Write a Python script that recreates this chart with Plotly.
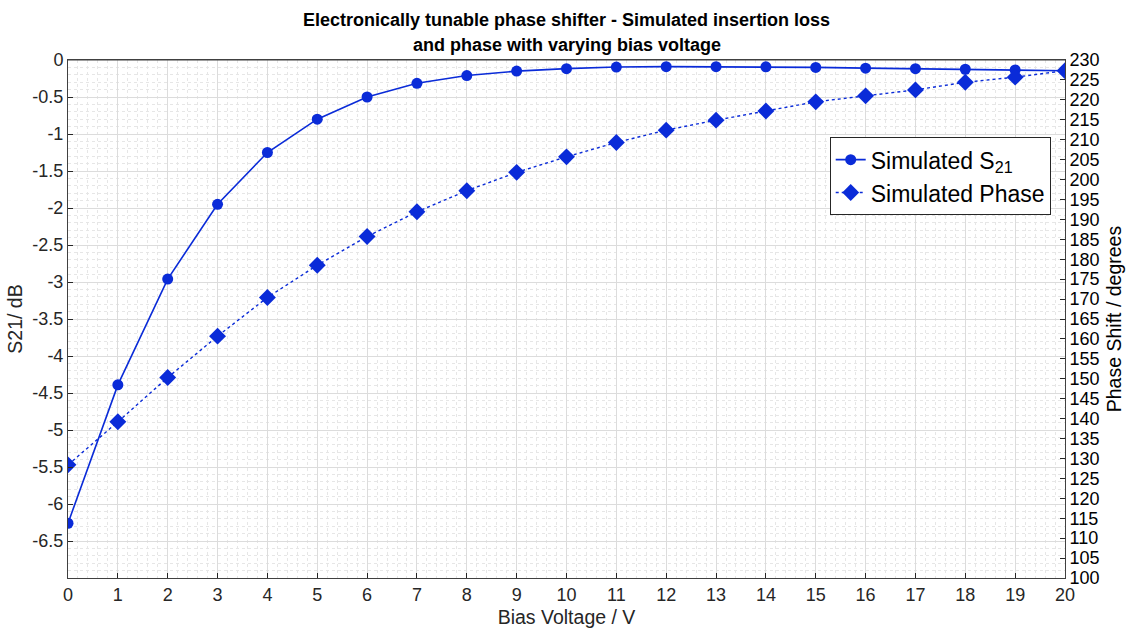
import plotly.graph_objects as go

bias_v = list(range(0, 21))
s21_db = [-6.26, -4.39, -2.96, -1.95, -1.25, -0.80, -0.50, -0.315, -0.21, -0.15, -0.117,
          -0.095, -0.09, -0.09, -0.092, -0.10, -0.11, -0.118, -0.125, -0.135, -0.145]
phase_deg = [128.4, 139.2, 150.3, 160.7, 170.4, 178.5, 185.7, 191.9, 197.2, 201.8, 205.7,
             209.3, 212.4, 214.9, 217.2, 219.5, 221.0, 222.5, 224.4, 225.7, 227.3]
left_ticks = [0, -0.5, -1, -1.5, -2, -2.5, -3, -3.5, -4, -4.5, -5, -5.5, -6, -6.5]
left_ticklabels = ["0", "-0.5", "-1", "-1.5", "-2", "-2.5", "-3", "-3.5", "-4", "-4.5",
                   "-5", "-5.5", "-6", "-6.5"]
right_ticks = list(range(100, 231, 5))
title_lines = ["Electronically tunable phase shifter - Simulated insertion loss",
               "and phase with varying bias voltage"]

BLUE = "#0a2bd8"
TICKC = "#262626"
FONT = "Liberation Sans, Arial, sans-serif"

fig = go.Figure()
fig.add_trace(go.Scatter(
    x=bias_v, y=s21_db, name="Simulated S<sub>21</sub>", mode="lines+markers",
    line=dict(color=BLUE, width=1.6), marker=dict(symbol="circle", size=11, color=BLUE),
    yaxis="y"))
fig.add_trace(go.Scatter(
    x=bias_v, y=phase_deg, name="Simulated Phase", mode="lines+markers",
    line=dict(color=BLUE, width=1.4, dash="dot"),
    marker=dict(symbol="diamond", size=13, color=BLUE), yaxis="y2"))

fig.update_layout(
    width=1134, height=635,
    margin=dict(l=68, r=69, t=60, b=57),
    paper_bgcolor="white", plot_bgcolor="white",
    font=dict(family=FONT, size=18, color=TICKC),
    showlegend=True,
    legend=dict(x=0.764, y=0.851, xanchor="left", yanchor="top",
                bgcolor="white", bordercolor="#262626", borderwidth=1,
                font=dict(size=23, color="black"), tracegroupgap=0,
                itemwidth=30),
    xaxis=dict(
        range=[0, 20], tickmode="array", tickvals=bias_v, ticks="inside", ticklen=5,
        tickcolor=TICKC, showline=True, linecolor="#404040", linewidth=1, mirror=True,
        showgrid=True, gridcolor="#dcdcdc", gridwidth=1, zeroline=False,
        minor=dict(dtick=0.2, tick0=0, showgrid=True, gridcolor="#e6e6e6", griddash="dot", ticks=""),
        title=dict(text="Bias Voltage / V", font=dict(size=19.5, color=TICKC), standoff=6),
        tickfont=dict(size=18, color=TICKC)),
    yaxis=dict(
        range=[-7, 0], tickmode="array", tickvals=left_ticks, ticktext=left_ticklabels,
        ticks="inside", ticklen=5, tickcolor=TICKC,
        showline=True, linecolor="#404040", linewidth=1,
        showgrid=True, gridcolor="#dcdcdc", gridwidth=1, zeroline=False,
        minor=dict(dtick=0.1, tick0=0, showgrid=True, gridcolor="#e6e6e6", griddash="dot", ticks=""),
        title=dict(text="S21/ dB", font=dict(size=19.5, color=TICKC), standoff=4),
        tickfont=dict(size=18, color=TICKC)),
    yaxis2=dict(
        range=[100, 230], overlaying="y", side="right", tickmode="array", tickvals=right_ticks,
        ticks="inside", ticklen=5, tickcolor=TICKC,
        showline=True, linecolor="#404040", linewidth=1, showgrid=False, zeroline=False,
        title=dict(text="Phase Shift / degrees", font=dict(size=19.5, color="black"), standoff=8),
        tickfont=dict(size=18, color="black")),
)
fig.add_shape(type="line", xref="paper", yref="paper", x0=0, x1=1, y0=1, y1=1,
              line=dict(color="#404040", width=1))
for i, line in enumerate(title_lines):
    fig.add_annotation(text="<b>" + line + "</b>", xref="paper", yref="paper",
                       x=0.5, y=1, yshift=40 - 25 * i, xanchor="center", yanchor="middle",
                       showarrow=False, font=dict(family=FONT, size=18, color="black"))

fig.write_html("out.html")
